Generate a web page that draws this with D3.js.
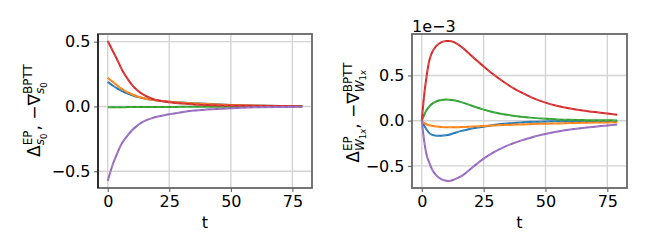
<!DOCTYPE html>
<html><head><meta charset="utf-8">
<script src="https://cdn.jsdelivr.net/npm/d3@7"></script>
<style>body{margin:0;background:#fff}svg{display:block}text{white-space:pre}</style>
</head><body>
<svg id="c" width="648" height="252"></svg>
<script>
// ---------- data: left panel (s0) ----------
const tLeft = [0,2,4,6,8,10,12,15,18,21,25,30,35,40,50,60,70,79];
const leftBlue   = [0.19,0.162,0.138,0.117,0.100,0.086,0.074,0.061,0.051,0.044,0.037,0.030,0.025,0.020,0.012,0.007,0.004,0.003];
const leftOrange = [0.222,0.190,0.160,0.133,0.110,0.092,0.077,0.062,0.051,0.044,0.036,0.029,0.024,0.019,0.012,0.007,0.004,0.003];
const leftGreen  = [-0.006,-0.006,-0.006,-0.006,-0.005,-0.005,-0.005,-0.005,-0.004,-0.004,-0.004,-0.003,-0.003,-0.003,-0.002,-0.002,-0.001,-0.001];
const leftRed    = [0.505,0.430,0.355,0.275,0.215,0.163,0.125,0.085,0.060,0.045,0.033,0.022,0.016,0.012,0.007,0.004,0.003,0.002];
const leftPurple = [-0.575,-0.450,-0.355,-0.277,-0.225,-0.182,-0.148,-0.112,-0.090,-0.075,-0.060,-0.044,-0.032,-0.024,-0.013,-0.007,-0.004,-0.003];

// ---------- data: right panel (W1x), values in units of 1e-3 ----------
const tRight = [0,1,2,3,4,6,8,10,11,13,16,19,22,25,29,33,37,40,45,50,55,60,65,70,75,79];
const rightBlue   = [0,-0.057,-0.100,-0.135,-0.154,-0.166,-0.167,-0.160,-0.155,-0.138,-0.113,-0.094,-0.079,-0.066,-0.049,-0.035,-0.025,-0.019,-0.012,-0.008,-0.006,-0.005,-0.005,-0.005,-0.005,-0.005];
const rightOrange = [0,-0.027,-0.042,-0.050,-0.056,-0.065,-0.070,-0.073,-0.074,-0.074,-0.071,-0.067,-0.063,-0.059,-0.053,-0.048,-0.044,-0.041,-0.037,-0.033,-0.030,-0.027,-0.024,-0.021,-0.019,-0.017];
const rightGreen  = [0,0.065,0.120,0.155,0.183,0.215,0.229,0.233,0.232,0.225,0.205,0.177,0.148,0.122,0.094,0.070,0.054,0.044,0.031,0.021,0.014,0.010,0.007,0.005,0.004,0.003];
const rightRed    = [0,0.290,0.500,0.660,0.745,0.830,0.868,0.880,0.881,0.868,0.818,0.745,0.670,0.600,0.510,0.430,0.360,0.315,0.250,0.200,0.163,0.135,0.113,0.095,0.079,0.066];
const rightPurple = [0,-0.230,-0.385,-0.460,-0.530,-0.608,-0.649,-0.664,-0.667,-0.652,-0.614,-0.550,-0.483,-0.420,-0.350,-0.295,-0.250,-0.220,-0.180,-0.148,-0.120,-0.098,-0.080,-0.066,-0.053,-0.042];

const xTicks = [0,25,50,75];
const yTicks = [-0.5,0,0.5];
const yTickLabels = ["\u22120.5","0.0","0.5"];
const offsetText = "1e\u22123";
const xLabel = "t";
const seriesColors = ["#1f77b4","#ff7f0e","#2ca02c","#d62728","#9467bd"];

const svg = d3.select("#c");
const FONT = "DejaVu Sans, sans-serif";

function pad(ext){const r=ext[1]-ext[0];return [ext[0]-0.05*r, ext[1]+0.05*r];}

function drawPanel(cfg){
  const {x0,x1,y0,y1,t,series,leftSpineDark} = cfg;
  const allV = series.flat();
  const x = d3.scaleLinear().domain(pad(d3.extent(t))).range([x0,x1]);
  const y = d3.scaleLinear().domain(pad(d3.extent(allV))).range([y1,y0]);
  const g = svg.append("g");
  g.selectAll(".gx").data(xTicks).join("line")
    .attr("x1",d=>x(d)).attr("x2",d=>x(d)).attr("y1",y0).attr("y2",y1)
    .attr("stroke","#d4d4d4").attr("stroke-width",1.4);
  g.selectAll(".gy").data(yTicks).join("line")
    .attr("y1",d=>y(d)).attr("y2",d=>y(d)).attr("x1",x0).attr("x2",x1)
    .attr("stroke","#d4d4d4").attr("stroke-width",1.4);
  const line = d3.line().x((d,i)=>x(t[i])).y(d=>y(d)).curve(d3.curveMonotoneX);
  series.forEach((s,i)=>{
    g.append("path").attr("d",line(s)).attr("fill","none")
      .attr("stroke",seriesColors[i]).attr("stroke-width",2);
    g.append("path").attr("d",line(s)).attr("fill","none")
      .attr("stroke","#fff").attr("stroke-opacity",0.18).attr("stroke-width",1)
      .attr("stroke-dasharray","4,3");
  });
  const xa = g.append("g").attr("transform",`translate(0,${y1})`)
    .call(d3.axisBottom(x).tickValues(xTicks).tickSize(4).tickPadding(3.5).tickFormat(d3.format("d")));
  const ya = g.append("g").attr("transform",`translate(${x0},0)`)
    .call(d3.axisLeft(y).tickValues(yTicks).tickSize(4).tickPadding(3.5).tickFormat((d,i)=>yTickLabels[i]));
  [xa,ya].forEach(a=>{
    a.select(".domain").remove();
    a.selectAll("line").attr("stroke","#555");
    a.selectAll("text").attr("font-family",FONT).attr("font-size",16).attr("fill","#000");
  });
  g.append("rect").attr("x",x0).attr("y",y0).attr("width",x1-x0).attr("height",y1-y0)
    .attr("fill","none").attr("stroke","#666").attr("stroke-width",1.8);
  if(leftSpineDark){
    g.append("line").attr("x1",x0).attr("x2",x0).attr("y1",y0).attr("y2",y1)
      .attr("stroke","#111").attr("stroke-width",1.4);
  }
  g.append("text").attr("x",(x0+x1)/2).attr("y",228).attr("text-anchor","middle")
    .attr("font-family",FONT).attr("font-size",16).text(xLabel);
  return {x,y,g};
}

function buildLabel(parent, pieces){
  const g = parent.append("g");
  let cx = 0;
  function put(p, baseX, shift){
    const el = g.append("text").attr("x",baseX).attr("y",shift+(p.dy||0))
      .attr("font-family",FONT).attr("font-size",p.size)
      .attr("font-style",p.italic?"italic":"normal").text(p.t);
    return el.node().getComputedTextLength();
  }
  pieces.forEach(p=>{
    if(p.stack){
      let wsup=0, wsub=0;
      p.stack.sup.forEach(q=>{wsup += put(q, cx+wsup, -7.5);});
      p.stack.sub.forEach(q=>{wsub += put(q, cx+wsub, 4.5);});
      cx += Math.max(wsup,wsub);
    } else {
      cx += put(p, cx, 0);
    }
  });
  return {g,w:cx};
}

drawPanel({x0:98,x1:312,y0:34,y1:188,t:tLeft,
  series:[leftBlue,leftOrange,leftGreen,leftRed,leftPurple],leftSpineDark:true});
drawPanel({x0:412,x1:627,y0:34,y1:188,t:tRight,
  series:[rightBlue,rightOrange,rightGreen,rightRed,rightPurple],leftSpineDark:false});

svg.append("text").attr("x",412).attr("y",32).attr("font-family",FONT).attr("font-size",16).text(offsetText);

const M=17, S=12, SS=8.5;
const subS0 = [{t:"s",size:S,italic:true},{t:"0",size:SS,dy:2.5}];
const subW = [{t:"W",size:S,italic:true},{t:"1",size:SS,dy:2.5},{t:"x",size:SS,italic:true,dy:2.5}];
function labelPieces(sub){
  return [{t:"\u0394",size:M},{stack:{sup:[{t:"EP",size:S}],sub:sub}},
          {t:",\u00a0",size:M},{t:"\u2212\u2207",size:M},{stack:{sup:[{t:"BPTT",size:S}],sub:sub}}];
}
const holder1 = svg.append("g").attr("transform","translate(39.5,110.5) rotate(-90)");
const L1 = buildLabel(holder1, labelPieces(subS0));
L1.g.attr("transform",`translate(${-L1.w/2},0)`);
const holder2 = svg.append("g").attr("transform","translate(359,112.5) rotate(-90)");
const L2 = buildLabel(holder2, labelPieces(subW));
L2.g.attr("transform",`translate(${-L2.w/2},0)`);
</script>
</body></html>
